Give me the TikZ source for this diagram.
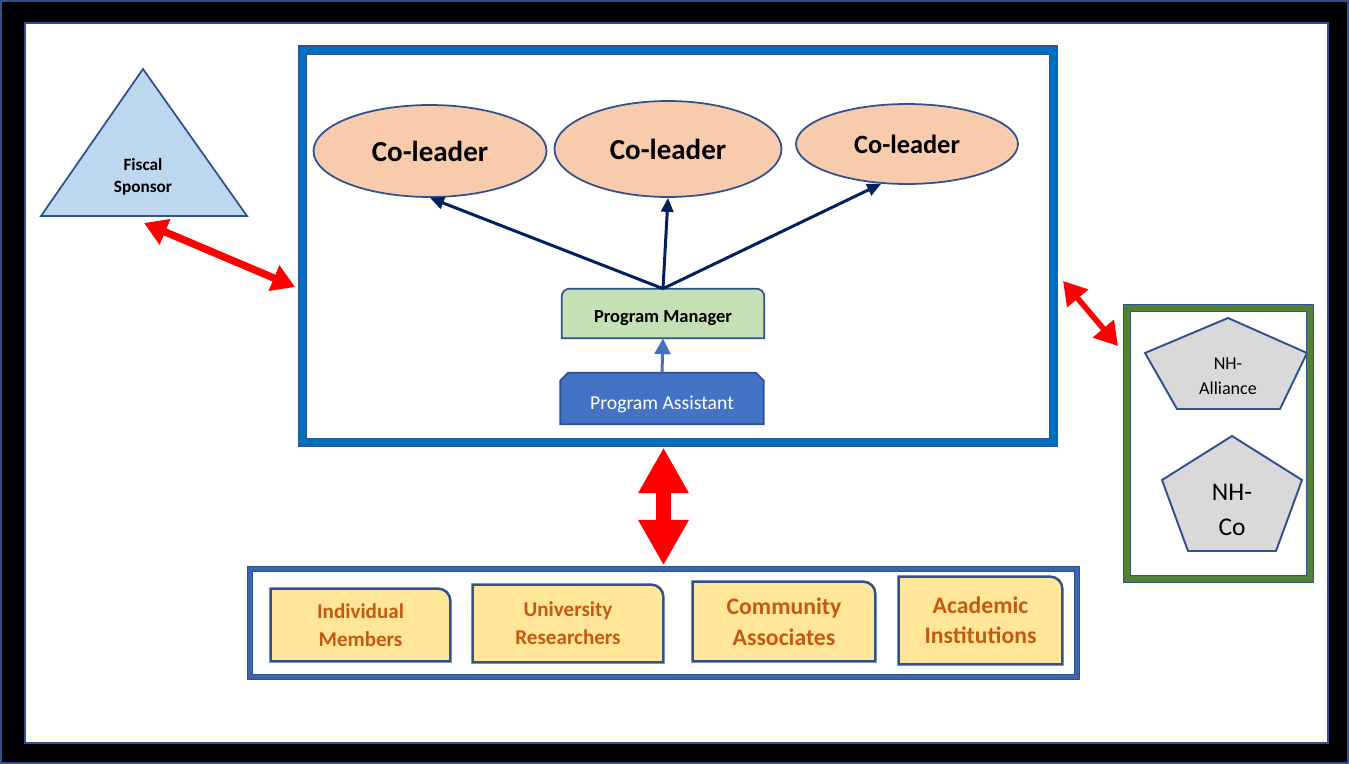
\documentclass[tikz,border=0pt]{standalone}
\usepackage{fontspec}
\setmainfont{Carlito}
\usepackage{tikz}
\usetikzlibrary{shapes.geometric, arrows.meta, positioning, calc, backgrounds}

\definecolor{navy}{HTML}{002060}
\definecolor{edgeblue}{HTML}{2F528F}
\definecolor{coreblue}{HTML}{0070C0}
\definecolor{assistblue}{HTML}{4472C4}
\definecolor{mgrgreen}{HTML}{C5E0B4}
\definecolor{peach}{HTML}{F8CBAD}
\definecolor{skyfill}{HTML}{BDD7EE}
\definecolor{tabyellow}{HTML}{FFE699}
\definecolor{rust}{HTML}{C55A11}
\definecolor{leafgreen}{HTML}{548235}
\definecolor{stone}{HTML}{D9D9D9}

\begin{document}
\begin{tikzpicture}[
  x=0.02cm, y=-0.02cm,
  leader/.style={
    ellipse, draw=edgeblue, line width=1pt, fill=peach,
    inner sep=0pt, font=\bfseries\fontsize{16.5}{20}\selectfont
  },
  corebox/.style={
    rectangle, inner sep=0pt,
    draw=edgeblue, line width=0.6pt, double=coreblue, double distance=4pt
  },
  crowdbox/.style={
    rectangle, inner sep=0pt,
    draw=edgeblue, line width=0.6pt, double=assistblue!60!edgeblue, double distance=2.2pt
  },
  partnerbox/.style={
    rectangle, inner sep=0pt,
    draw=edgeblue, line width=0.5pt, double=leafgreen, double distance=3.2pt
  },
  mgrtext/.style={
    inner sep=0pt, minimum width=4.04cm, minimum height=0.98cm,
    font=\bfseries\fontsize{10.5}{12.6}\selectfont
  },
  asttext/.style={
    inner sep=0pt, minimum width=4.06cm, minimum height=1.02cm,
    text=white, font=\fontsize{11.2}{13.4}\selectfont
  },
  tabbox/.style={
    inner sep=0pt, align=center, text=rust,
    font=\bfseries\fontsize{12}{16}\selectfont
  },
  tabbig/.style={tabbox, font=\bfseries\fontsize{13.5}{17.5}\selectfont},
  gemtext/.style={inner sep=0pt, align=center},
  mgrshape/.style={draw=edgeblue, line width=1pt, fill=mgrgreen},
  astshape/.style={draw=edgeblue, line width=1pt, fill=assistblue},
  tabshape/.style={draw=edgeblue, line width=1.4pt, fill=tabyellow},
  gemshape/.style={draw=edgeblue, line width=1.1pt, fill=stone},
  sponsorshape/.style={draw=edgeblue, line width=1pt, fill=skyfill},
  linkarr/.style={-{Triangle[length=8pt,width=7pt]}, line width=1.7pt, navy},
  liftarr/.style={-{Triangle[length=9pt,width=9pt]}, line width=1.7pt, assistblue},
  tiearr/.style={{Triangle[length=13pt,width=15pt]}-{Triangle[length=13pt,width=15pt]},
    line width=4.2pt, red},
  bigarr/.style={{Triangle[length=26pt,width=27pt]}-{Triangle[length=26pt,width=27pt]},
    line width=9pt, red}
]

\useasboundingbox (0,0) rectangle (1349,764);

%% black frame and white sheet
\begin{scope}[on background layer]
  \fill[black] (0,0) rectangle (1349,764);
  \draw[edgeblue, line width=1pt] (1,1) rectangle (1348,763);
  \draw[edgeblue, line width=1.1pt, fill=white] (25,23) rectangle (1328,743);
\end{scope}

%% core team box
\node[corebox, minimum width=15.02cm, minimum height=7.85cm] (core) at (678,246.25) {};

\node[leader, minimum width=4.66cm, minimum height=1.84cm] (e1) at (430,151) {Co-leader};
\node[leader, minimum width=4.54cm, minimum height=1.92cm] (e2) at (668,149) {Co-leader};
\node[leader, minimum width=4.44cm, minimum height=1.6cm,
  font=\bfseries\fontsize{15}{18}\selectfont] (e3) at (907,144) {Co-leader};

\node[mgrtext] (pm) at (663,313.5) {\raisebox{-2pt}[\height][0pt]{Program Manager}};
\node[asttext] (pa) at (662,398.5) {\raisebox{-2.5pt}[\height][0pt]{Program Assistant}};

%% fiscal sponsor
\node[gemtext, font=\bfseries\fontsize{9.8}{12.5}\selectfont] (fs) at (143,177) {Fiscal\\Sponsor};

%% partner box
\node[partnerbox, minimum width=3.66cm, minimum height=5.42cm] (nh) at (1218.5,443.5) {};
\node[gemtext, font=\fontsize{10.3}{14.2}\selectfont] (nhall) at (1228,376) {NH-\\Alliance};
\node[gemtext, font=\fontsize{14.5}{20}\selectfont] (nhco) at (1232,510) {NH-\\Co};

%% members row
\node[crowdbox, minimum width=16.54cm, minimum height=2.16cm] (crowd) at (663.5,623) {};
\node[tabbox, minimum width=3.58cm, minimum height=1.44cm] (indiv) at (360.5,625) {Individual\\Members};
\node[tabbox, minimum width=3.8cm, minimum height=1.54cm] (univ) at (568,623.5) {University\\Researchers};
\node[tabbig, minimum width=3.64cm, minimum height=1.58cm] (comm) at (784,621.5) {Community\\Associates};
\node[tabbig, minimum width=3.26cm, minimum height=1.74cm,
  font=\bfseries\fontsize{13.5}{17}\selectfont] (acad) at (980.5,620.5) {Academic\\Institutions};

%% outlines behind the texts
\begin{scope}[on background layer]
  \draw[mgrshape] (pm.south west) -- ($(pm.north west)+(0,8)$) arc(180:270:8)
    -- ($(pm.north east)+(-8,0)$) arc(270:360:8) -- (pm.south east) -- cycle;
  \draw[astshape] (pa.south west) -- ($(pa.north west)+(0,8)$) -- ($(pa.north west)+(8,0)$)
    -- ($(pa.north east)+(-8,0)$) -- ($(pa.north east)+(0,8)$) -- (pa.south east) -- cycle;
  \draw[sponsorshape] (143,69) -- (247,216) -- (41,216) -- cycle;
  \draw[gemshape] (1228,318) -- (1307,353) -- (1280,409) -- (1177,409) -- (1145,353) -- cycle;
  \draw[gemshape] (1232,436) -- (1302,480) -- (1276,551) -- (1188,551) -- (1162,480) -- cycle;
  \foreach \b in {indiv, univ, comm, acad}
    \draw[tabshape] (\b.south west) -- (\b.north west) -- ($(\b.north east)+(-12,0)$)
      arc(270:360:12) -- (\b.south east) -- cycle;
\end{scope}

%% reporting lines
\draw[linkarr] (pm.north) -- (e1.south);
\draw[linkarr] (pm.north) -- (e2.south);
\draw[linkarr] (pm.north) -- (e3.237);
\draw[liftarr] (pa.north) -- (pm.south);

%% two-way ties
\coordinate (fsport) at (144,223);
\coordinate (corewest) at (295,287);
\coordinate (coreeast) at (1063,281);
\coordinate (nhport) at (1118,346);
\draw[tiearr] (fsport) -- (corewest);
\draw[tiearr, line width=3.2pt] (coreeast) -- (nhport);
\draw[bigarr] ([yshift=-2.6pt]crowd.north |- core.south) -- ([yshift=1.7pt]crowd.north);

\end{tikzpicture}
\end{document}
